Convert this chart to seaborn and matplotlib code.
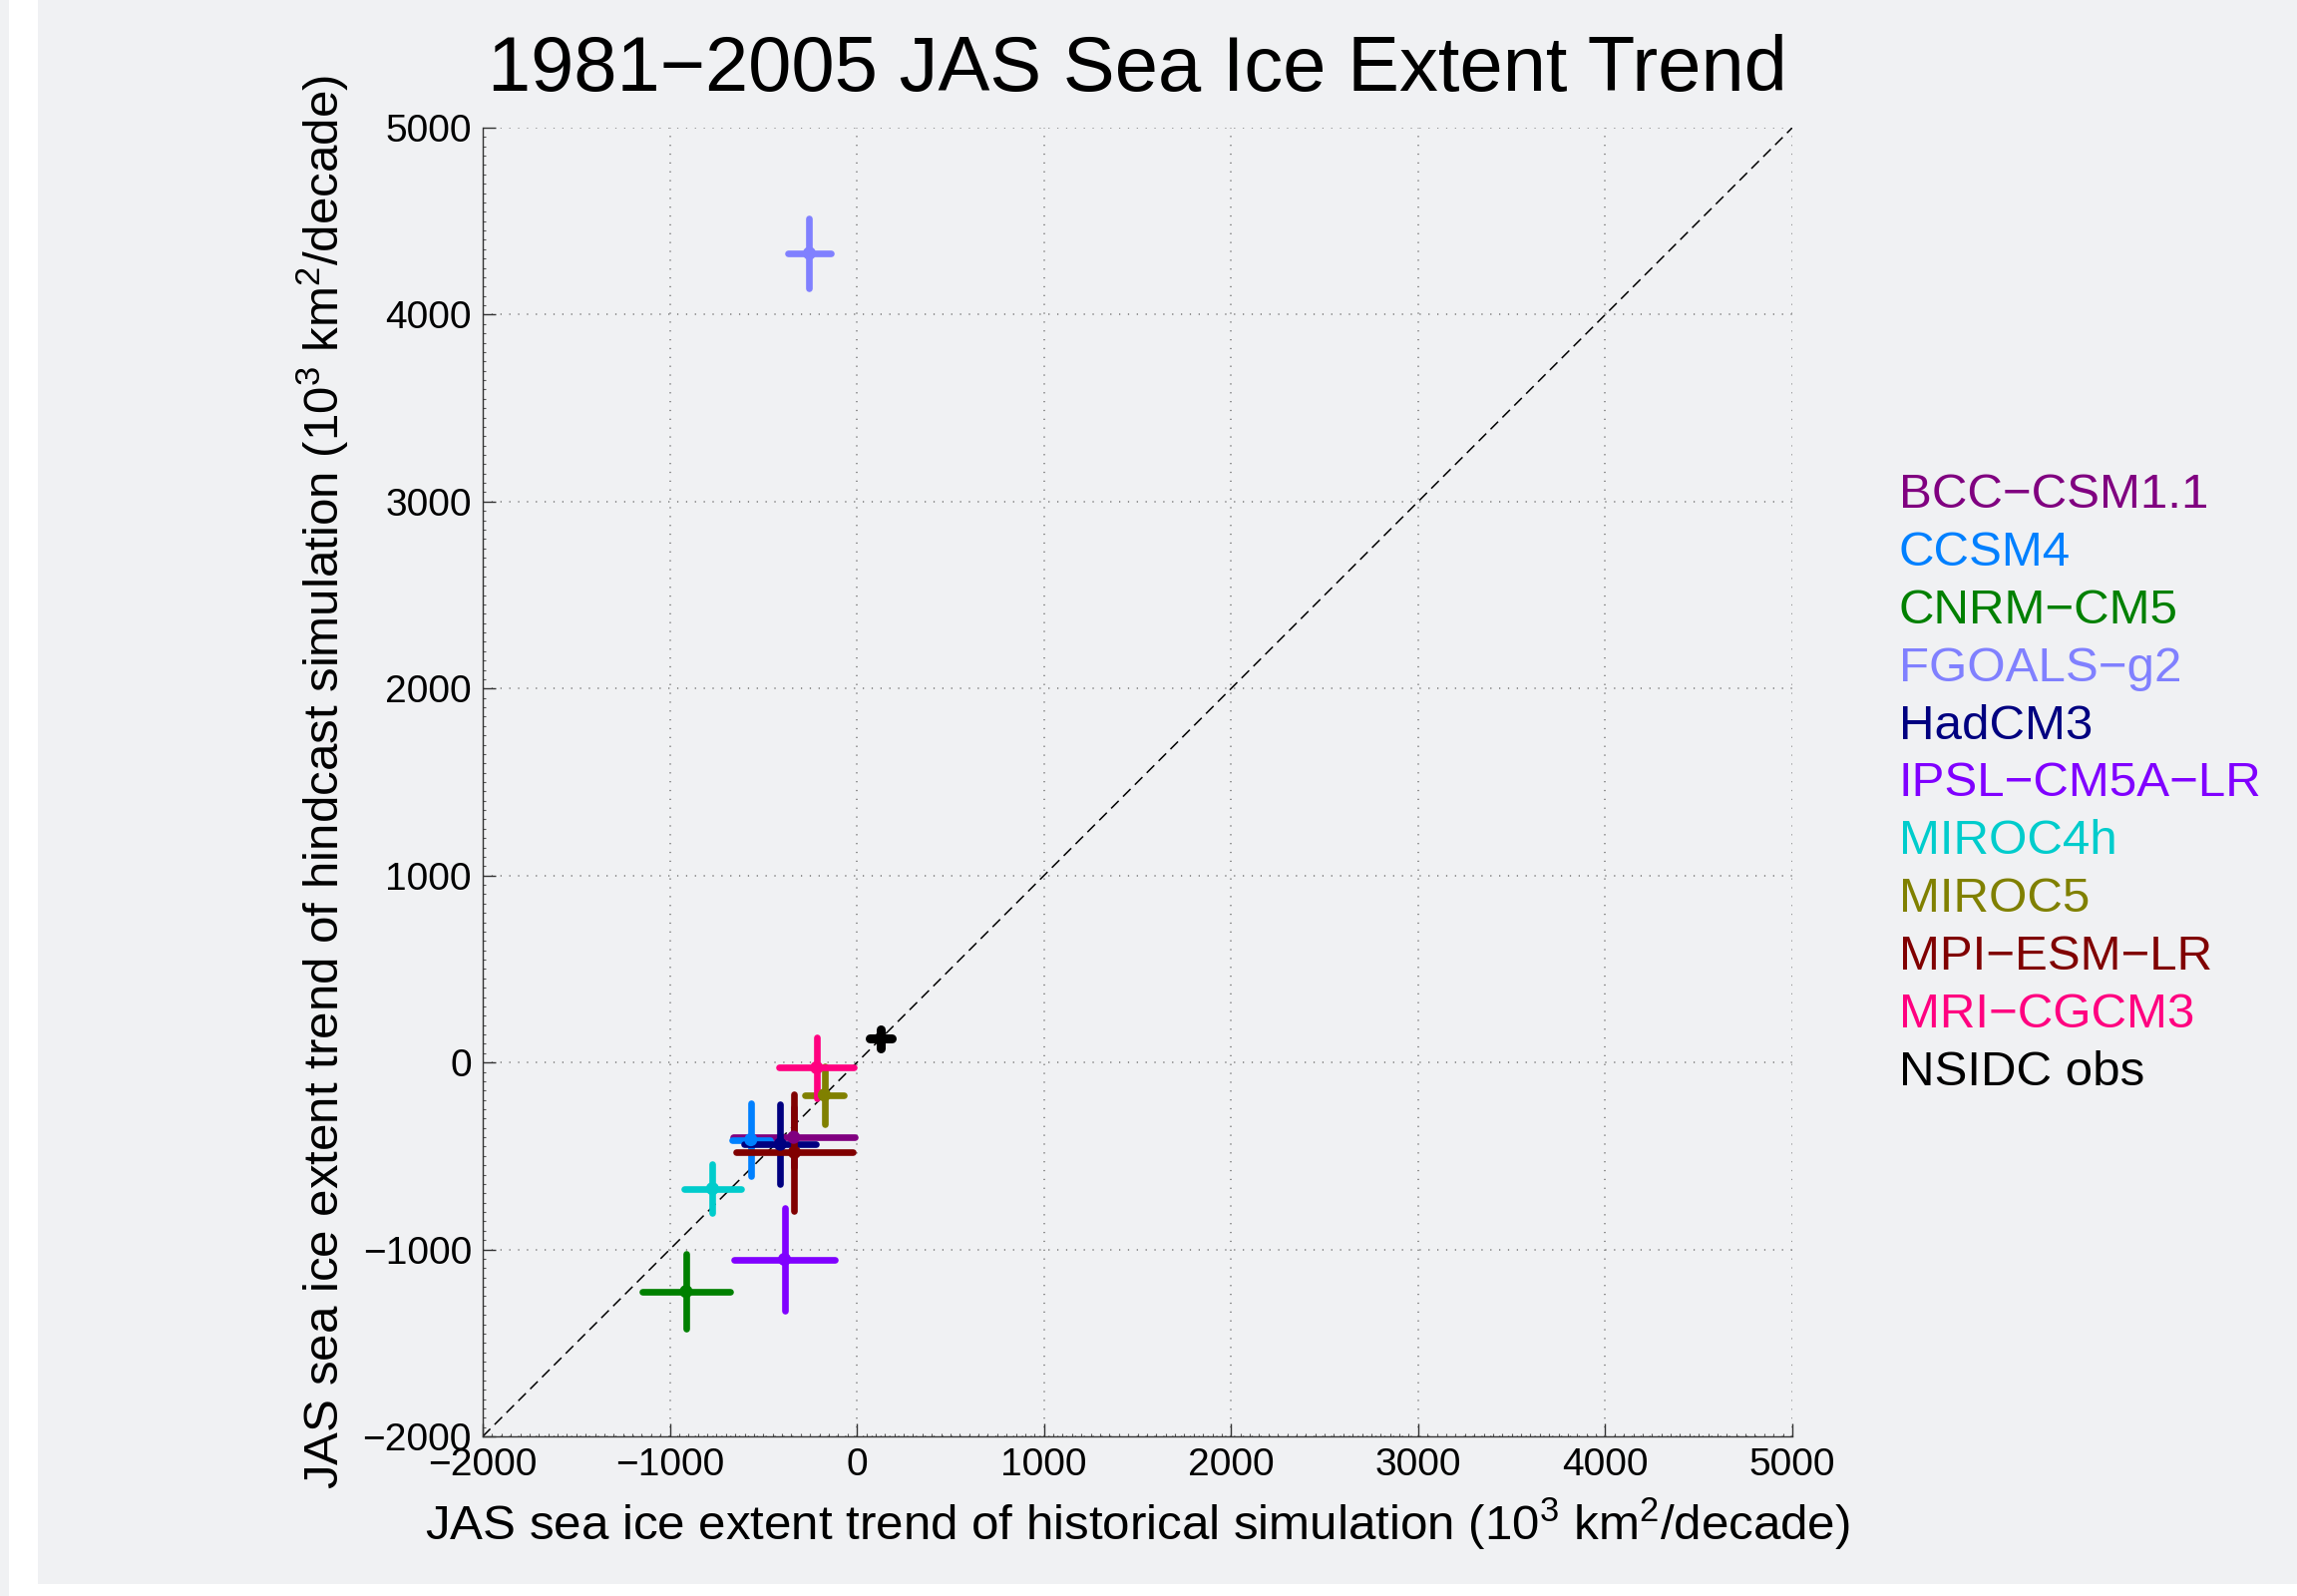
import numpy as np
import pandas as pd
import matplotlib
matplotlib.use("Agg")
import matplotlib.pyplot as plt
from matplotlib.patches import Rectangle
from matplotlib.lines import Line2D
from matplotlib.ticker import MultipleLocator
import seaborn as sns

# ── data (10^3 km^2/decade) ─────────────────────────────────
models = ["BCC\u2212CSM1.1", "CCSM4", "CNRM\u2212CM5", "FGOALS\u2212g2", "HadCM3",
          "IPSL\u2212CM5A\u2212LR", "MIROC4h", "MIROC5", "MPI\u2212ESM\u2212LR",
          "MRI\u2212CGCM3", "NSIDC obs"]
hist_trend = [-338, -567, -913, -254, -410, -387, -772, -174, -334, -215, 128]
hind_trend = [-400, -413, -1225, 4328, -437, -1053, -675, -174, -481, -28, 128]
hist_err = [326, 101, 235, 115, 193, 270, 151, 104, 313, 200, 59]
hind_err = [160, 197, 200, 188, 212, 277, 131, 154, 313, 162, 50]
colors = ["#800080", "#0080ff", "#008000", "#8080ff", "#000080", "#8000ff",
          "#00cccc", "#808000", "#800000", "#ff0080", "#000000"]

df = pd.DataFrame({"model": models, "hist": hist_trend, "hind": hind_trend,
                   "xerr": hist_err, "yerr": hind_err})

BG = "#f0f1f3"

sns.set_theme(style="ticks")
plt.rcParams["font.family"] = ["Liberation Sans", "DejaVu Sans"]
plt.rcParams["mathtext.default"] = "regular"
for k in ["text.color", "axes.labelcolor", "xtick.labelcolor", "ytick.labelcolor"]:
    plt.rcParams[k] = "black"

fig = plt.figure(figsize=(23.03, 16), dpi=100)
fig.patch.set_facecolor("white")
# grey panel like the original export
fig.add_artist(Rectangle((38 / 2303, 12 / 1600), 1, 1, transform=fig.transFigure,
                         facecolor=BG, edgecolor="none", zorder=-10))
fig.add_artist(Rectangle((0, 0), 9 / 2303, 1, transform=fig.transFigure,
                         facecolor=BG, edgecolor="none", zorder=-10))

ax = fig.add_axes([484 / 2303, 1 - 1440 / 1600, 1313 / 2303, 1312 / 1600])
ax.set_facecolor(BG)

# ── 1:1 line ───────────────────────────────────────────────
diag = [-2000, 5000]
sns.lineplot(x=diag, y=diag, ax=ax, color="black", lw=1.1, dashes=False,
             zorder=2).lines[0].set_dashes((7, 4))

# ── error crosses ──────────────────────────────────────────
for i, row in df.iterrows():
    lw = 6.5 if row["model"] == "NSIDC obs" else 4.8
    eb = ax.errorbar(row["hist"], row["hind"], xerr=row["xerr"], yerr=row["yerr"],
                     fmt="none", ecolor=colors[i], elinewidth=lw, capsize=0,
                     zorder=3 + i * 0.01)
    for lc in eb[2]:
        lc.set_capstyle("round")

sns.scatterplot(data=df, x="hist", y="hind", hue="model", palette=colors,
                s=90, linewidth=0, legend=False, ax=ax, zorder=4)

# ── axes styling ───────────────────────────────────────────
ax.set_xlim(-2000, 5000)
ax.set_ylim(-2000, 5000)
ax.xaxis.set_major_locator(MultipleLocator(1000))
ax.yaxis.set_major_locator(MultipleLocator(1000))
ax.xaxis.set_minor_locator(MultipleLocator(50))
ax.yaxis.set_minor_locator(MultipleLocator(50))
ax.grid(True, which="major", color="#777777", lw=1.1, linestyle=(0, (0.8, 5)))
ax.set_axisbelow(True)

for s in ["top", "right"]:
    ax.spines[s].set_visible(False)
for s in ["left", "bottom"]:
    ax.spines[s].set_color("#333333")
    ax.spines[s].set_linewidth(1.0)

ax.tick_params(which="major", direction="in", length=9.5, width=1.0,
               color="#333333", labelsize=28, pad=8, labelcolor="black")
ax.tick_params(which="minor", direction="in", length=2, width=0.8, color="#555555")

ax.set_xlabel("JAS sea ice extent trend of historical simulation (10$^3$ km$^2$/decade)",
              fontsize=35.5, labelpad=9)
ax.set_ylabel("JAS sea ice extent trend of hindcast simulation (10$^3$ km$^2$/decade)",
              fontsize=35.5, labelpad=8)
ax.set_title("1981\u22122005 JAS Sea Ice Extent Trend", fontsize=56, pad=27)

# ── coloured text legend ───────────────────────────────────
handles = [Line2D([], [], color=c, linestyle="none") for c in colors]
fig.legend(handles, models, loc="center left", bbox_to_anchor=(1904 / 2303, 1 - 786 / 1600),
           frameon=False, fontsize=35.5, handlelength=0, handletextpad=0,
           borderpad=0, borderaxespad=0, labelspacing=0.26, labelcolor=colors)

fig.savefig("out.png", dpi=100, facecolor=fig.get_facecolor())
